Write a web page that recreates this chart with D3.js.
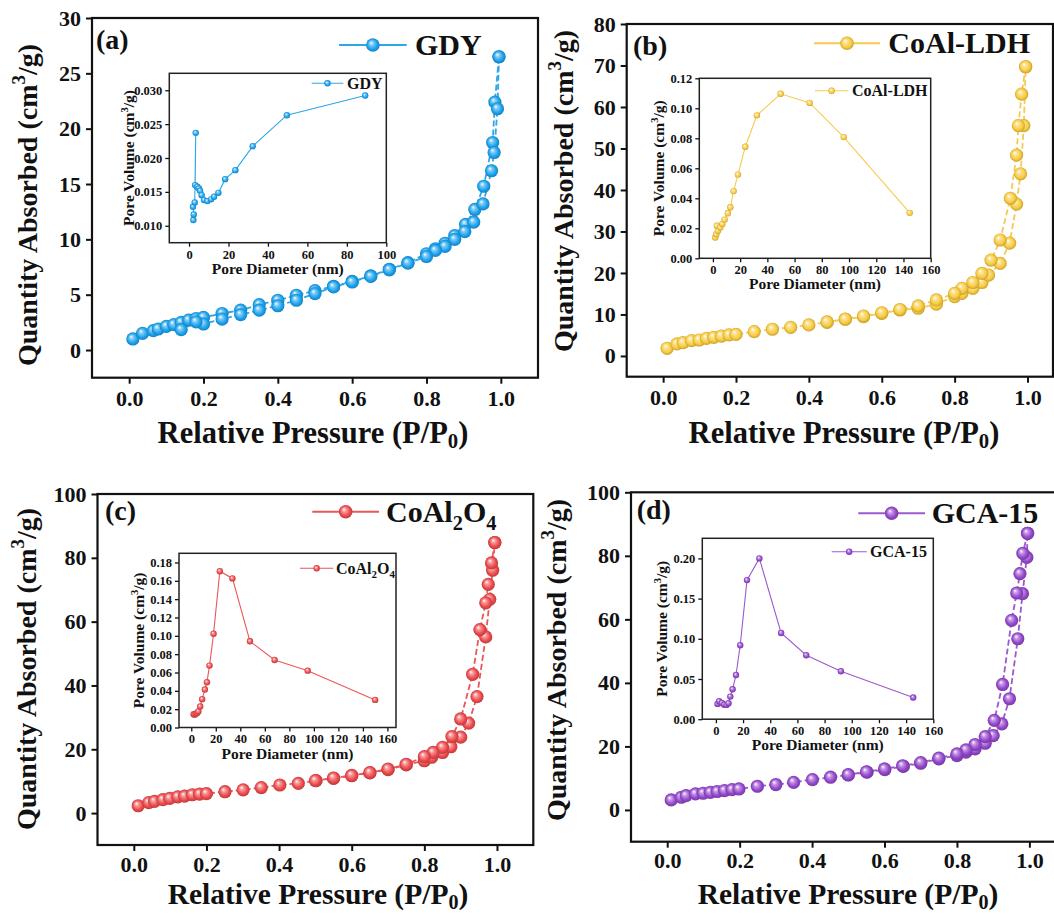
<!DOCTYPE html>
<html><head><meta charset="utf-8">
<script src="https://cdn.jsdelivr.net/npm/d3@7/dist/d3.min.js"></script>
<style>
body{margin:0;background:#fff}
svg{display:block}
text{font-family:"Liberation Serif","Times New Roman",serif;font-weight:bold;fill:#111}
</style>
</head><body>
<svg id="chart" width="1054" height="914"></svg>
<script>
// ---------------- DATA ----------------
const mainXTicks = [0, 0.2, 0.4, 0.6, 0.8, 1.0];
const gdyYTicks = [0, 5, 10, 15, 20, 25, 30];
const ldhYTicks = [0, 10, 20, 30, 40, 50, 60, 70, 80];
const spinelYTicks = [0, 20, 40, 60, 80, 100];
const gcaYTicks = [0, 20, 40, 60, 80, 100];

// (a) GDY isotherm
const gdyAdsP = [0.01,0.036,0.065,0.078,0.10,0.12,0.14,0.16,0.18,0.20,0.25,0.30,0.35,0.40,0.45,0.50,0.55,0.60,0.65,0.70,0.75,0.80,0.824,0.85,0.876,0.905,0.93,0.954,0.978,0.984,0.995];
const gdyAdsV = [1.0,1.5,1.75,1.9,2.14,2.3,2.5,2.7,2.85,2.95,3.3,3.6,4.1,4.5,4.95,5.37,5.76,6.2,6.7,7.3,7.9,8.7,9.15,9.65,10.35,11.35,12.7,14.8,18.75,22.4,26.5];
const gdyDesP = [0.995,0.991,0.982,0.975,0.952,0.927,0.903,0.876,0.85,0.824,0.80,0.75,0.70,0.65,0.60,0.55,0.50,0.45,0.40,0.35,0.30,0.25,0.20,0.18,0.14];
const gdyDesV = [26.5,21.8,17.85,16.2,13.2,11.56,10.7,10.0,9.36,9.0,8.45,7.85,7.25,6.65,6.15,5.7,5.1,4.5,4.0,3.6,3.2,2.8,2.35,2.55,1.84];

// (b) CoAl-LDH isotherm
const ldhAdsP = [0.011,0.038,0.055,0.078,0.099,0.119,0.139,0.16,0.181,0.2,0.25,0.3,0.35,0.4,0.45,0.5,0.55,0.6,0.65,0.7,0.75,0.8,0.82,0.85,0.875,0.893,0.925,0.951,0.97,0.981,0.99,0.995];
const ldhAdsV = [1.85,2.9,3.2,3.7,3.85,4.25,4.5,4.8,5.06,5.2,5.86,6.43,6.9,7.47,8.1,8.84,9.47,10.28,11.08,11.5,12.5,14.3,15.1,16.3,17.7,19.5,22.3,27.2,36.6,43.9,55.5,69.7];
const ldhDesP = [0.995,0.984,0.975,0.97,0.953,0.925,0.90,0.875,0.85,0.82,0.80,0.75,0.70,0.65,0.60,0.55,0.50,0.45];
const ldhDesV = [69.7,63.1,55.5,48.4,38.0,27.95,23.1,19.9,17.7,16.3,15.1,13.5,12.05,11.2,10.4,9.6,8.9,8.2];

// (c) CoAl2O4 isotherm
const spinelAdsP = [0.012,0.041,0.057,0.08,0.099,0.121,0.14,0.161,0.181,0.2,0.251,0.301,0.351,0.402,0.453,0.502,0.55,0.6,0.65,0.70,0.75,0.80,0.82,0.85,0.873,0.90,0.922,0.945,0.969,0.98,0.988,0.994];
const spinelAdsV = [2.3,3.3,3.65,4.2,4.6,5.1,5.3,5.75,5.95,6.1,6.7,7.3,8.0,8.8,9.3,10.15,10.9,11.7,12.6,13.6,15.1,16.4,17.5,19.0,20.8,23.8,28.2,36.5,55.2,67.0,76.1,84.8];
const spinelDesP = [0.994,0.985,0.976,0.969,0.953,0.933,0.90,0.876,0.85,0.824,0.80,0.75,0.70,0.65,0.60,0.55,0.50];
const spinelDesV = [84.8,78.4,71.7,65.9,57.5,43.5,29.5,24.0,20.6,19.0,17.7,15.3,13.8,12.7,11.8,11.0,10.2];

// (d) GCA-15 isotherm
const gcaAdsP = [0.011,0.039,0.052,0.078,0.099,0.119,0.138,0.158,0.179,0.198,0.249,0.30,0.349,0.401,0.451,0.50,0.552,0.601,0.652,0.70,0.75,0.80,0.825,0.85,0.878,0.90,0.924,0.945,0.968,0.981,0.993,0.995];
const gcaAdsV = [3.15,4.0,4.5,5.05,5.25,5.55,5.8,6.1,6.4,6.6,7.45,8.0,8.7,9.55,10.3,11.0,11.9,12.7,13.7,14.7,16.1,17.1,18.2,19.25,21.0,23.4,27.1,35.0,53.9,68.1,79.5,87.1];
const gcaDesP = [0.995,0.982,0.974,0.965,0.951,0.926,0.903,0.878,0.85,0.825,0.80,0.75,0.70,0.65,0.60,0.55,0.50];
const gcaDesV = [87.1,80.8,74.4,68.3,59.7,39.5,28.2,23.1,20.6,18.9,17.65,16.3,14.9,13.9,12.9,12.0,11.1];

// Insets: pore size distributions
const gdyInsetXTicks = [0, 20, 40, 60, 80, 100];
const gdyInsetYTicks = [0.010, 0.015, 0.020, 0.025, 0.030];
const poreXTicks = [0, 20, 40, 60, 80, 100, 120, 140, 160];
const ldhInsetYTicks = [0, 0.02, 0.04, 0.06, 0.08, 0.10, 0.12];
const spinelInsetYTicks = [0, 0.02, 0.04, 0.06, 0.08, 0.10, 0.12, 0.14, 0.16, 0.18];
const gcaInsetYTicks = [0, 0.05, 0.10, 0.15, 0.20];

const gdyPoreD = [2.2,2.4,2.0,2.9,3.4,3.1,4.2,5.0,5.6,6.4,7.6,9.3,11.2,12.7,14.9,18.3,23.5,32.3,49.6,89.3];
const gdyPoreV = [0.01084,0.01168,0.0128,0.01345,0.02371,0.0160,0.01575,0.0155,0.01516,0.01452,0.01379,0.01364,0.0139,0.01428,0.01486,0.01688,0.01821,0.02175,0.02632,0.02922];

const ldhPoreD = [1.7,2.5,3.7,2.9,5.4,6.9,8.6,11.0,12.8,15.2,18.4,23.8,32.3,49.8,71.1,96.1,144.6];
const ldhPoreV = [0.0139,0.0161,0.0184,0.0217,0.0206,0.0229,0.0258,0.0300,0.0340,0.0448,0.0558,0.0744,0.0953,0.1097,0.1036,0.0808,0.0303];

const spinelPoreD = [1.9,2.8,3.8,4.8,5.8,7.3,8.9,11.1,12.8,14.9,18.2,23.3,33.6,47.9,68.0,95.0,150.0];
const spinelPoreV = [0.0145,0.0140,0.0150,0.0158,0.0175,0.0229,0.0309,0.0414,0.0494,0.0675,0.1023,0.1705,0.1626,0.0940,0.0737,0.0620,0.0301];

const gcaPoreD = [1.2,2.4,4.4,6.1,7.8,9.3,10.6,12.3,14.8,17.9,22.9,32.0,48.0,66.5,92.0,145.2];
const gcaPoreV = [0.0190,0.0224,0.0202,0.0181,0.0178,0.0199,0.0281,0.0373,0.0550,0.0920,0.1730,0.2000,0.1073,0.0796,0.0597,0.0269];

// ---------------- LAYOUT / STYLE ----------------
const zip = (a, b) => a.map((v, i) => [v, b[i]]);

const panels = [
  { key:'gdy', color:'#1BA2EE', line:'#2EA6EA', label:'(a)', labelPos:[96,49],
    frame:[92,18,538,377.7], xd:[-0.1,1.1], yd:[-2.5,30], yTicks:gdyYTicks, xPad:7,
    ads:zip(gdyAdsP,gdyAdsV), des:zip(gdyDesP,gdyDesV),
    legend:{x0:339,x1:406.7,y:45,tx:415, name:[['GDY']]},
    xTitle:[313,443,30.5], yTitle:[37,205],
    inset:{frame:[169.3,73.3,386.3,242.7], xd:[-10,100], yd:[0.0075,0.0325], xTicks:gdyInsetXTicks, yTicks:gdyInsetYTicks, yfmt:'.3f',
      pts:zip(gdyPoreD,gdyPoreV), legend:{x0:311.7,x1:343.3,y:83.3,tx:347}} },
  { key:'ldh', color:'#F9CB3E', line:'#F6CA52', label:'(b)', labelPos:[633,55],
    frame:[626.7,24,1053,376.7], xd:[-0.1,1.07], yd:[-5,80], yTicks:ldhYTicks, xPad:7,
    ads:zip(ldhAdsP,ldhAdsV), des:zip(ldhDesP,ldhDesV),
    legend:{x0:814,x1:880,y:43.3,tx:888.3, name:[['CoAl-LDH']]},
    xTitle:[844,443,30.5], yTitle:[573,191],
    inset:{frame:[699.3,78.3,930.7,258.3], xd:[-10,160], yd:[0,0.12], xTicks:poreXTicks, yTicks:ldhInsetYTicks, yfmt:'.2f',
      pts:zip(ldhPoreD,ldhPoreV), legend:{x0:815,x1:848.3,y:90.7,tx:852}} },
  { key:'spinel', color:'#EE4A4C', line:'#EC5658', label:'(c)', labelPos:[105,520],
    frame:[97.5,494,533.3,845], xd:[-0.1,1.1], yd:[-10,100], yTicks:spinelYTicks, xPad:5,
    ads:zip(spinelAdsP,spinelAdsV), des:zip(spinelDesP,spinelDesV),
    legend:{x0:312.3,x1:379,y:511.7,tx:386, name:[['CoAl'],['2','sub'],['O'],['4','sub']]},
    xTitle:[318,904,29.5], yTitle:[36,669],
    inset:{frame:[179,553.3,396,727.5], xd:[-10,167], yd:[0,0.19], xTicks:poreXTicks, yTicks:spinelInsetYTicks, yfmt:'.2f',
      pts:zip(spinelPoreD,spinelPoreV), legend:{x0:300,x1:333.3,y:568.3,tx:336}} },
  { key:'gca', color:'#9548CE', line:'#9C58D0', label:'(d)', labelPos:[636.7,519],
    frame:[631,492.3,1065.6,841.7], xd:[-0.1,1.1], yd:[-10,100], yTicks:gcaYTicks, xPad:5,
    ads:zip(gcaAdsP,gcaAdsV), des:zip(gcaDesP,gcaDesV),
    legend:{x0:858.3,x1:925,y:513.3,tx:931.7, name:[['GCA-15']]},
    xTitle:[848,904,29.5], yTitle:[566,660],
    inset:{frame:[702.3,538.3,933.3,719.2], xd:[-10,160], yd:[0,0.225], xTicks:poreXTicks, yTicks:gcaInsetYTicks, yfmt:'.2f',
      pts:zip(gcaPoreD,gcaPoreV), legend:{x0:831.7,x1:866.7,y:551.7,tx:870}} }
];

const svg = d3.select('#chart');
const defs = svg.append('defs');

function makeGrad(id, color) {
  const g = defs.append('radialGradient').attr('id', id)
    .attr('cx','50%').attr('cy','50%').attr('r','52%').attr('fx','36%').attr('fy','32%');
  g.append('stop').attr('offset','0%').attr('stop-color','#ffffff');
  g.append('stop').attr('offset','28%').attr('stop-color', d3.interpolateRgb(color,'#ffffff')(0.45));
  g.append('stop').attr('offset','70%').attr('stop-color', color);
  g.append('stop').attr('offset','100%').attr('stop-color', d3.color(color).darker(0.7).formatHex());
}

// writes rich text pieces: [text, 'sub'|'sup'|undefined]
function rich(sel, pieces, size, subShift) {
  const sd = subShift == null ? 0.26 : subShift;
  pieces.forEach(([t, kind], i) => {
    const ts = sel.append('tspan').text(t);
    if (kind === 'sub') { ts.attr('font-size', size*0.68).attr('dy', size*sd); }
    else if (kind === 'sup') { ts.attr('font-size', size*0.68).attr('dy', -size*0.42); }
    const prev = pieces[i-1];
    if (!kind && prev && prev[1]) ts.attr('dy', prev[1] === 'sub' ? -size*sd : size*0.42);
  });
}

function styleAxis(g, fontSize, sw) {
  g.select('.domain').remove();
  g.selectAll('.tick line').attr('stroke','#111').attr('stroke-width', sw);
  g.selectAll('.tick text').attr('font-size', fontSize).attr('fill','#111')
    .attr('font-family','"Liberation Serif","Times New Roman",serif').attr('font-weight','bold');
}

panels.forEach(p => {
  makeGrad('g-'+p.key, p.color);
  const [fx0, fy0, fx1, fy1] = p.frame;
  const x = d3.scaleLinear().domain(p.xd).range([fx0, fx1]);
  const y = d3.scaleLinear().domain(p.yd).range([fy1, fy0]);
  const g = svg.append('g');

  // axes
  const xa = g.append('g').attr('transform', `translate(0,${fy1})`)
    .call(d3.axisBottom(x).tickValues(mainXTicks).tickSize(6).tickPadding(p.xPad).tickFormat(d3.format('.1f')));
  styleAxis(xa, 22, 2);
  const ya = g.append('g').attr('transform', `translate(${fx0},0)`)
    .call(d3.axisLeft(y).tickValues(p.yTicks).tickSize(6).tickPadding(5).tickFormat(d3.format('d')));
  styleAxis(ya, 22, 2);

  // curves
  const line = d3.line().x(d => x(d[0])).y(d => y(d[1]));
  [p.ads, p.des].forEach(s => {
    g.append('path').datum(s).attr('d', line).attr('fill','none')
      .attr('stroke', p.line).attr('stroke-width', 1.8).attr('stroke-dasharray','6,3');
  });
  [p.ads, p.des].forEach(s => {
    g.selectAll(null).data(s).enter().append('circle')
      .attr('cx', d => x(d[0])).attr('cy', d => y(d[1])).attr('r', 6.6)
      .attr('fill', `url(#g-${p.key})`);
  });

  // frame
  g.append('rect').attr('x', fx0).attr('y', fy0).attr('width', fx1-fx0).attr('height', fy1-fy0)
    .attr('fill','none').attr('stroke','#111').attr('stroke-width', 2.2);

  // panel label
  g.append('text').attr('x', p.labelPos[0]).attr('y', p.labelPos[1]).attr('font-size', 28).text(p.label);

  // legend
  const L = p.legend;
  g.append('line').attr('x1', L.x0).attr('x2', L.x1).attr('y1', L.y).attr('y2', L.y)
    .attr('stroke', p.line).attr('stroke-width', 2);
  g.append('circle').attr('cx', (L.x0+L.x1)/2).attr('cy', L.y).attr('r', 6.8).attr('fill', `url(#g-${p.key})`);
  rich(g.append('text').attr('x', L.tx).attr('y', L.y + 10).attr('font-size', 30), L.name, 30);

  // axis titles
  const ts = p.xTitle[2];
  rich(g.append('text').attr('x', p.xTitle[0]).attr('y', p.xTitle[1]).attr('text-anchor','middle').attr('font-size', ts),
    [['Relative Pressure (P/P'],['0','sub'],[')']], ts, 0.18);
  rich(g.append('text').attr('transform', `translate(${p.yTitle[0]},${p.yTitle[1]}) rotate(-90)`)
    .attr('text-anchor','middle').attr('font-size', 28),
    [['Quantity Absorbed (cm'],['3','sup'],['/g)']], 28);

  // inset
  const I = p.inset;
  const [ix0, iy0, ix1, iy1] = I.frame;
  const ix = d3.scaleLinear().domain(I.xd).range([ix0, ix1]);
  const iy = d3.scaleLinear().domain(I.yd).range([iy1, iy0]);
  const ig = svg.append('g');
  const ixa = ig.append('g').attr('transform', `translate(0,${iy1})`)
    .call(d3.axisBottom(ix).tickValues(I.xTicks).tickSize(4).tickPadding(3).tickFormat(d3.format('d')));
  styleAxis(ixa, 12.5, 1.3);
  const iya = ig.append('g').attr('transform', `translate(${ix0},0)`)
    .call(d3.axisLeft(iy).tickValues(I.yTicks).tickSize(4).tickPadding(3).tickFormat(d3.format(I.yfmt)));
  styleAxis(iya, 12.5, 1.3);
  ig.append('path').datum(I.pts).attr('d', d3.line().x(d => ix(d[0])).y(d => iy(d[1])))
    .attr('fill','none').attr('stroke', p.line).attr('stroke-width', 1.1);
  ig.selectAll(null).data(I.pts).enter().append('circle')
    .attr('cx', d => ix(d[0])).attr('cy', d => iy(d[1])).attr('r', 3.2)
    .attr('fill', `url(#g-${p.key})`);
  ig.append('rect').attr('x', ix0).attr('y', iy0).attr('width', ix1-ix0).attr('height', iy1-iy0)
    .attr('fill','none').attr('stroke','#222').attr('stroke-width', 1.5);
  rich(ig.append('text').attr('x', (ix0+ix1)/2).attr('y', iy1 + 31).attr('text-anchor','middle').attr('font-size', 15.5),
    [['Pore Diameter (nm)']], 15.5);
  rich(ig.append('text').attr('transform', `translate(${ix0-35},${(iy0+iy1)/2}) rotate(-90)`)
    .attr('text-anchor','middle').attr('font-size', 15.5),
    [['Pore Volume (cm'],['3','sup'],['/g)']], 15.5);
  const IL = I.legend;
  ig.append('line').attr('x1', IL.x0).attr('x2', IL.x1).attr('y1', IL.y).attr('y2', IL.y)
    .attr('stroke', p.line).attr('stroke-width', 1.1);
  ig.append('circle').attr('cx', (IL.x0+IL.x1)/2).attr('cy', IL.y).attr('r', 3.2).attr('fill', `url(#g-${p.key})`);
  rich(ig.append('text').attr('x', IL.tx).attr('y', IL.y + 5.3).attr('font-size', 16), L.name, 16);
});
</script>
</body></html>
